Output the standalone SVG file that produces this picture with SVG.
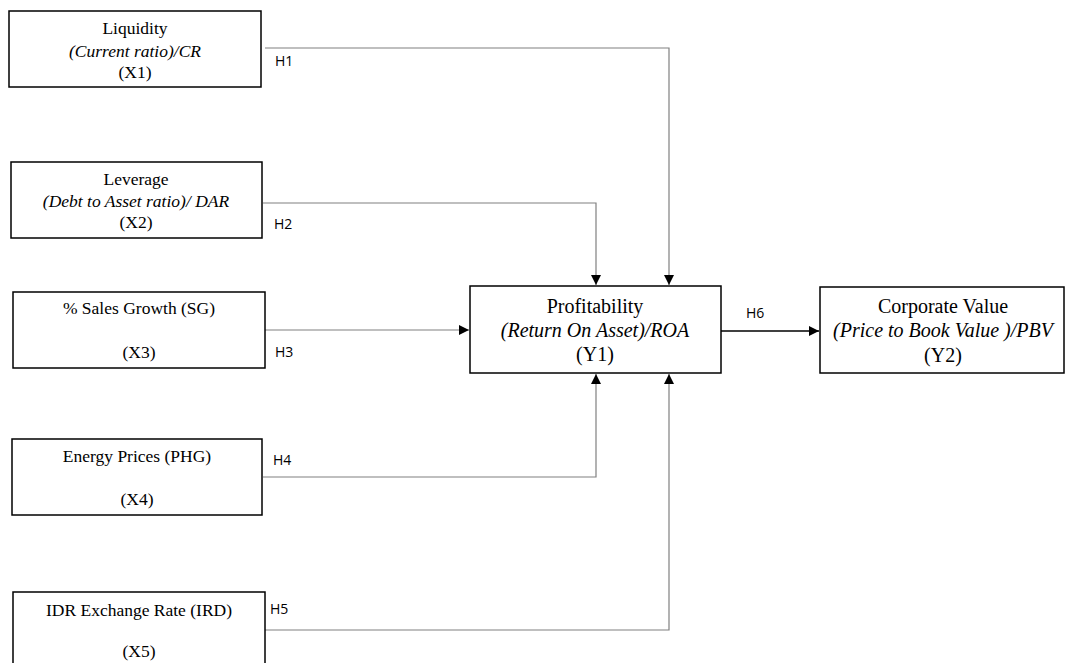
<svg xmlns="http://www.w3.org/2000/svg" width="1065" height="663" viewBox="0 0 1065 663">
<style>
.box{fill:#fff;stroke:#000;stroke-width:1.5}
.t{font-family:"Liberation Serif","Times New Roman",serif;font-size:17.5px;fill:#000;text-anchor:middle}
.tl{font-family:"Liberation Serif","Times New Roman",serif;font-size:20px;fill:#000;text-anchor:middle}
.i{font-style:italic}
.h{font-family:"Open Sans","Liberation Sans",sans-serif;font-size:14px;fill:#000}
.c{fill:none;stroke:#808080;stroke-width:1.2}
.cb{fill:none;stroke:#000;stroke-width:1.3}
</style>
<defs>
<marker id="arr" viewBox="0 0 10 10" refX="10" refY="5" markerWidth="10" markerHeight="10" markerUnits="userSpaceOnUse" orient="auto">
<path d="M0,0 L10,5 L0,10 z" fill="#000"/>
</marker>
</defs>
<g id="connectors">
<polyline class="c" points="265,48 669,48 669,285" marker-end="url(#arr)"/>
<polyline class="c" points="263,203 596,203 596,285" marker-end="url(#arr)"/>
<polyline class="c" points="265,330 469,330" marker-end="url(#arr)"/>
<polyline class="c" points="263,477 596,477 596,374" marker-end="url(#arr)"/>
<polyline class="c" points="265,630 669,630 669,374" marker-end="url(#arr)"/>
<polyline class="cb" points="721,331 819,331" marker-end="url(#arr)"/>
<text class="h" x="275" y="66">H1</text>
<text class="h" x="274" y="229">H2</text>
<text class="h" x="275" y="357">H3</text>
<text class="h" x="273" y="465">H4</text>
<text class="h" x="270" y="614">H5</text>
<text class="h" x="746" y="318">H6</text>
</g>
<g id="x1">
<rect class="box" x="9" y="11" width="252" height="76"/>
<text class="t" x="135" y="34">Liquidity</text>
<text class="t i" x="135" y="57">(Current ratio)/CR</text>
<text class="t" x="135" y="78">(X1)</text>
</g>
<g id="x2">
<rect class="box" x="11" y="162" width="251" height="76"/>
<text class="t" x="136" y="185">Leverage</text>
<text class="t i" x="136" y="207">(Debt to Asset ratio)/ DAR</text>
<text class="t" x="136" y="228">(X2)</text>
</g>
<g id="x3">
<rect class="box" x="13" y="292" width="252" height="76"/>
<text class="t" x="139" y="314">% Sales Growth (SG)</text>
<text class="t" x="139" y="358">(X3)</text>
</g>
<g id="x4">
<rect class="box" x="12" y="439" width="250" height="76"/>
<text class="t" x="137" y="462">Energy Prices (PHG)</text>
<text class="t" x="137" y="505">(X4)</text>
</g>
<g id="x5">
<rect class="box" x="13" y="592" width="252" height="80"/>
<text class="t" x="139" y="616">IDR Exchange Rate (IRD)</text>
<text class="t" x="139" y="657">(X5)</text>
</g>
<g id="y1">
<rect class="box" x="470" y="286" width="251" height="87"/>
<text class="tl" x="595" y="313">Profitability</text>
<text class="tl i" x="595" y="337">(Return On Asset)/ROA</text>
<text class="tl" x="595" y="361">(Y1)</text>
</g>
<g id="y2">
<rect class="box" x="820" y="287" width="244" height="86"/>
<text class="tl" x="943" y="313">Corporate  Value</text>
<text class="tl i" x="943" y="337">(Price to Book Value )/PBV</text>
<text class="tl" x="943" y="362">(Y2)</text>
</g>
</svg>
